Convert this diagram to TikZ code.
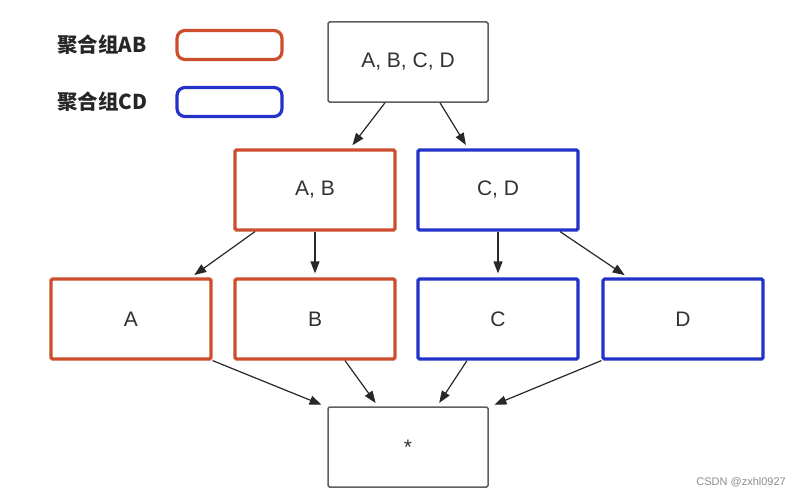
\documentclass[tikz,border=0pt]{standalone}
\usepackage{fontspec}
\setmainfont{Liberation Sans}
\newfontfamily\cjk{Noto Sans CJK SC}
\usetikzlibrary{arrows.meta}
\definecolor{abred}{RGB}{205,78,45}
\definecolor{cdblue}{RGB}{35,50,200}
\definecolor{boxgray}{RGB}{95,95,95}
\definecolor{txtgray}{RGB}{50,50,50}
\definecolor{arrgray}{RGB}{40,40,40}
\tikzset{
  box/.style={draw=boxgray, line width=1.5pt, minimum width=160pt, minimum height=80pt, inner sep=0pt, text=txtgray, font=\fontsize{21}{24}\selectfont, rounded corners=1.5pt},
  redbox/.style={box, draw=abred, line width=3.2pt},
  bluebox/.style={box, draw=cdblue, line width=3.2pt},
  legbox/.style={draw=#1, line width=3.2pt, rounded corners=8pt, minimum width=105pt, minimum height=29pt, inner sep=0pt},
  legtext/.style={font=\cjk\bfseries\fontsize{20.5}{24}\selectfont, text=black!85, anchor=west, inner sep=0pt},
  arr/.style={draw=arrgray, line width=1.2pt, -{Triangle[length=12pt,width=9pt]}, shorten >=4pt},
}
\begin{document}
\begin{tikzpicture}[x=1pt,y=-1pt]
\useasboundingbox[fill=white] (0,0) rectangle (797,495);
% legend
\node[legtext] (l1) at (57,45) {聚合组AB};
\node[legbox=abred] (lb1) at (229.5,45) {};
\node[legtext] (l2) at (57,102) {聚合组CD};
\node[legbox=cdblue] (lb2) at (229.5,102) {};
% nodes
\node[box] (top) at (408,62) {A, B, C, D};
\node[redbox] (ab) at (315,190) {A, B};
\node[bluebox] (cd) at (498,190) {C, D};
\node[redbox] (a) at (131,319) {A};
\node[redbox] (b) at (315,319) {B};
\node[bluebox] (c) at (498,319) {C};
\node[bluebox] (d) at (683,319) {D};
\node[box] (star) at (408,447) {*};
% arrows
\draw[arr] ([xshift=-23pt]top.south) -- ([xshift=35pt]ab.north);
\draw[arr] ([xshift=32pt]top.south) -- ([xshift=-30pt]cd.north);
\draw[arr] ([xshift=-60pt]ab.south) -- ([xshift=60pt]a.north);
\draw[arr] (ab.south) -- (b.north);
\draw[arr] (cd.south) -- (c.north);
\draw[arr] ([xshift=62pt]cd.south) -- ([xshift=-55pt]d.north);
\draw[arr] (a.south east) -- ([xshift=-2pt]star.north west);
\draw[arr] ([xshift=30pt]b.south) -- ([xshift=-30pt]star.north);
\draw[arr] ([xshift=-31pt]c.south) -- ([xshift=29pt]star.north);
\draw[arr] (d.south west) -- ([xshift=2pt]star.north east);
% watermark
\node[font=\fontsize{11}{13}\selectfont, text=black!45, anchor=east, inner sep=0pt] (wm) at (786,482) {CSDN @zxhl0927};
\end{tikzpicture}
\end{document}
